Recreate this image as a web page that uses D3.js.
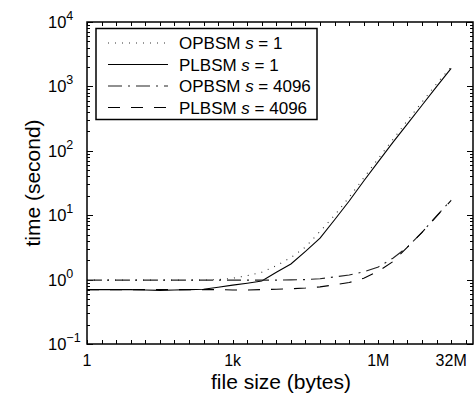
<!DOCTYPE html>
<html>
<head>
<meta charset="utf-8">
<script src="https://cdn.jsdelivr.net/npm/d3@7"></script>
<style>
  html, body { margin: 0; padding: 0; background: #fff; }
  svg { display: block; font-family: "Liberation Sans", Arial, Helvetica, sans-serif; }
</style>
</head>
<body>
<svg id="chart" width="474" height="400"></svg>
<script>
// File sizes in bytes (powers of two from 1 B to 32 MB)
const fileSizes = [1, 2, 4, 8, 16, 32, 64, 128, 256, 512, 1024, 2048, 4096, 8192,
  16384, 32768, 65536, 131072, 262144, 524288, 1048576, 2097152, 4194304,
  8388608, 16777216, 33554432];

// Running time in seconds for each method
const opbsmS1 = [0.98, 0.98, 0.98, 0.98, 0.98, 0.98, 0.98, 0.98, 0.98, 1.0, 1.05, 1.15, 1.3,
  1.65, 2.2, 3.2, 5.6, 10, 19, 38, 76, 150, 295, 570, 1100, 2000];
const plbsmS1 = [0.70, 0.70, 0.70, 0.70, 0.69, 0.68, 0.69, 0.70, 0.71, 0.76, 0.82, 0.88, 0.95,
  1.3, 1.75, 2.75, 4.4, 8.5, 16.6, 34, 68, 135, 262, 510, 990, 1900];
const opbsmS4096 = [0.98, 0.98, 0.98, 0.98, 0.98, 0.98, 0.98, 0.98, 0.98, 0.98, 0.98, 0.98, 0.98,
  0.98, 0.99, 1.0, 1.03, 1.1, 1.18, 1.32, 1.57, 2.15, 3.2, 5.4, 9.8, 17.2];
const plbsmS4096 = [0.70, 0.70, 0.70, 0.70, 0.70, 0.70, 0.70, 0.70, 0.70, 0.70, 0.69, 0.69, 0.70,
  0.71, 0.72, 0.74, 0.77, 0.83, 0.9, 1.05, 1.35, 1.9, 3.2, 5.4, 9.6, 17];

// Axis tick labels
const xTickValues = [1, 1024, 1048576, 33554432];
const xTickLabels = ["1", "1k", "1M", "32M"];
const yTickValues = [0.1, 1, 10, 100, 1000, 10000];
const yTickExponents = ["\u22121", "0", "1", "2", "3", "4"];

const seriesNames = ["OPBSM", "PLBSM", "OPBSM", "PLBSM"];
const seriesParams = ["1", "1", "4096", "4096"];

const series = [
  { name: seriesNames[0], param: seriesParams[0], values: opbsmS1, dash: "1,6", color: "#333" },
  { name: seriesNames[1], param: seriesParams[1], values: plbsmS1, dash: null, color: "#000" },
  { name: seriesNames[2], param: seriesParams[2], values: opbsmS4096, dash: "14,6,2,6", color: "#222" },
  { name: seriesNames[3], param: seriesParams[3], values: plbsmS4096, dash: "12,11", color: "#000" }
];

const svg = d3.select("#chart");
const plotL = 87, plotR = 473, plotT = 22, plotB = 344;

const x = d3.scaleLog().base(2).domain([1, Math.pow(2, 26.5)]).range([plotL, plotR]);
const y = d3.scaleLog().base(10).domain([0.1, 10000]).range([plotB, plotT]);

// Tick positions: every power of two on x, decades plus minor ticks on y
const xTicksAll = d3.range(0, 27).map(p => Math.pow(2, p));
const yMinor = [];
for (let e = -1; e < 4; e++) {
  for (let m = 2; m <= 9; m++) yMinor.push(m * Math.pow(10, e));
}

const axisG = svg.append("g").attr("stroke", "#000").attr("stroke-width", 1);

// bottom and top ticks (pointing inward)
xTicksAll.forEach(v => {
  const px = Math.round(x(v)) + 0.5;
  axisG.append("line").attr("x1", px).attr("x2", px).attr("y1", plotB).attr("y2", plotB - 4);
  axisG.append("line").attr("x1", px).attr("x2", px).attr("y1", plotT).attr("y2", plotT + 4);
});
// left and right ticks
yTickValues.forEach(v => {
  const py = Math.round(y(v)) + 0.5;
  axisG.append("line").attr("x1", plotL).attr("x2", plotL + 6).attr("y1", py).attr("y2", py);
  axisG.append("line").attr("x1", plotR).attr("x2", plotR - 6).attr("y1", py).attr("y2", py);
});
yMinor.forEach(v => {
  const py = Math.round(y(v)) + 0.5;
  axisG.append("line").attr("x1", plotL).attr("x2", plotL + 3).attr("y1", py).attr("y2", py);
  axisG.append("line").attr("x1", plotR).attr("x2", plotR - 3).attr("y1", py).attr("y2", py);
});

// data lines
const line = d3.line()
  .x((d, i) => x(fileSizes[i]))
  .y(d => y(d));

svg.append("g").selectAll("path")
  .data(series)
  .join("path")
  .attr("d", s => line(s.values))
  .attr("fill", "none")
  .attr("stroke", s => s.color)
  .attr("stroke-width", 1.1)
  .attr("stroke-dasharray", s => s.dash);

// plot frame
svg.append("rect")
  .attr("x", plotL).attr("y", plotT)
  .attr("width", plotR - plotL).attr("height", plotB - plotT)
  .attr("fill", "none").attr("stroke", "#000").attr("stroke-width", 1.5);

// x tick labels
svg.append("g").selectAll("text")
  .data(xTickValues)
  .join("text")
  .attr("x", d => x(d))
  .attr("y", 366)
  .attr("text-anchor", "middle")
  .attr("font-size", 16)
  .text((d, i) => xTickLabels[i]);

// y tick labels with exponents
const yl = svg.append("g").selectAll("text")
  .data(yTickValues)
  .join("text")
  .attr("x", 48)
  .attr("y", d => y(d) + 6)
  .attr("font-size", 16.5);
yl.append("tspan").text("10");
yl.append("tspan")
  .attr("dy", -8)
  .attr("font-size", 12.5)
  .text((d, i) => yTickExponents[i]);

// axis titles
svg.append("text")
  .attr("x", 281).attr("y", 389)
  .attr("text-anchor", "middle")
  .attr("font-size", 21)
  .text("file size (bytes)");

svg.append("text")
  .attr("transform", "translate(40,183) rotate(-90)")
  .attr("text-anchor", "middle")
  .attr("font-size", 21)
  .text("time (second)");

// legend
const lg = svg.append("g");
lg.append("rect")
  .attr("x", 96).attr("y", 28.5)
  .attr("width", 221).attr("height", 91)
  .attr("fill", "#fff").attr("stroke", "#000").attr("stroke-width", 1.5);

const rowY = [43, 64.5, 86, 107.5];
series.forEach((s, i) => {
  lg.append("line")
    .attr("x1", 108).attr("x2", 168)
    .attr("y1", rowY[i]).attr("y2", rowY[i])
    .attr("stroke", s.color).attr("stroke-width", 1.1)
    .attr("stroke-dasharray", s.dash);
  const t = lg.append("text")
    .attr("x", 179).attr("y", rowY[i] + 6)
    .attr("font-size", 17);
  t.append("tspan").text(s.name + " ");
  t.append("tspan").attr("font-style", "italic").text("s");
  t.append("tspan").text(" = " + s.param);
});
</script>
</body>
</html>
